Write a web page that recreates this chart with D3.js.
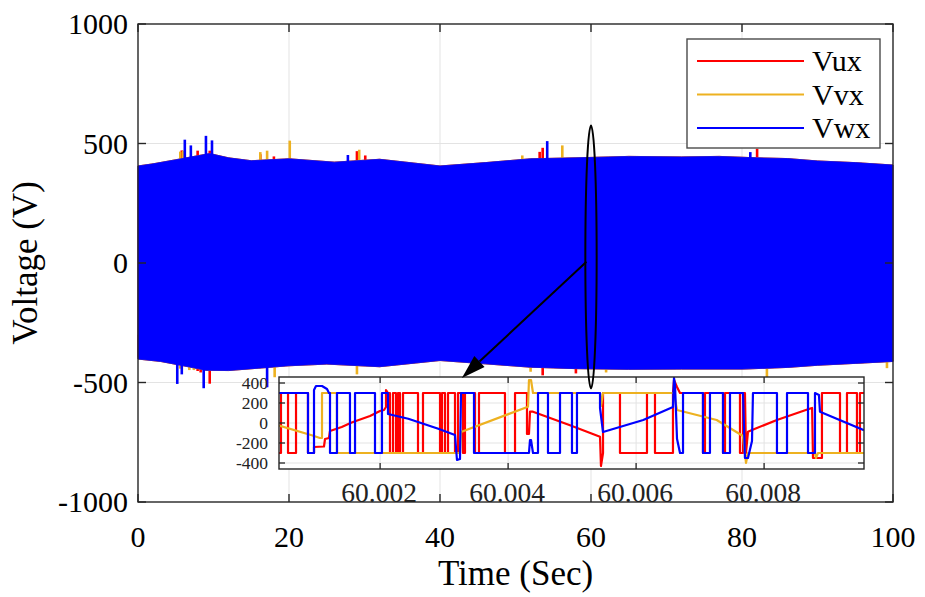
<!DOCTYPE html>
<html>
<head>
<meta charset="utf-8">
<script src="https://cdn.jsdelivr.net/npm/d3@7"></script>
<style>
  html, body { margin: 0; padding: 0; background: #fff; }
  svg, svg text { font-family: 'Liberation Serif', 'Times New Roman', Times, serif; }
  svg { display: block; }
</style>
</head>
<body>
<svg id="chart" width="925" height="597"></svg>
<script>
// ---------------- main axes ----------------
const xTicks = [0, 20, 40, 60, 80, 100];
const yTicks = [-1000, -500, 0, 500, 1000];
const seriesNames = ["Vux", "Vvx", "Vwx"];
const seriesColors = ["#ff0000", "#edb120", "#0000ff"];

// envelope of the switched phase voltages over the 100 s run (s, V)
const envUpperT = [0, 2, 5, 9.5, 12, 15, 20, 26, 32, 40, 46, 52, 58, 65, 72, 77, 82, 86, 90, 95, 100];
const envUpperV = [406, 415, 432, 458, 440, 428, 436, 422, 434, 406, 420, 436, 440, 446, 444, 446, 440, 437, 427, 420, 410];
const envLowerT = [0, 3, 6, 9, 12, 16, 20, 25, 32, 40, 46, 52, 58, 65, 72, 80, 86, 90, 95, 100];
const envLowerV = [-402, -412, -430, -449, -450, -440, -430, -423, -434, -408, -422, -436, -442, -445, -444, -444, -437, -428, -420, -412];

// transient peaks outside the envelope: [time s, voltage V]
const peaksVux = [[0.1, -395], [5.8, 471], [7.9, 470], [9.5, 470], [16.2, 455], [18.0, 446], [29.0, 468], [30.1, 450],
  [53.2, 465], [53.6, 482], [82.0, 478], [7.9, -452], [8.3, -458], [9.5, -505], [53.6, -470], [58.0, -462]];
const peaksVvx = [[5.6, 466], [6.0, 470], [16.2, 464], [17.1, 470], [20.1, 512], [29.3, 474], [50.9, 450], [56.2, 492],
  [5.6, -442], [6.8, -448], [7.4, -448], [18.1, -478], [29.0, -466], [52.0, -455], [62.0, -458], [83.3, -506], [99.2, -440]];
const peaksVwx = [[6.2, 516], [7.0, 492], [9.0, 532], [9.8, 513], [27.8, 452], [54.2, 510], [81.1, 464],
  [5.2, -506], [5.8, -466], [8.7, -524], [17.1, -520], [44.2, -452]];

// ---------------- zoomed window after t = 60 s ----------------
const insetT0 = 60;                       // s
const insetDomainUs = [420, 9561];        // µs after insetT0
const insetXTicks = [2000, 4000, 6000, 8000];
const insetXTickLabels = ["60.002", "60.004", "60.006", "60.008"];
const insetYTicks = [-400, -200, 0, 200, 400];

// [µs after 60 s, V]
const insetVux = [[420,-300],[451,-300],[451,300],[561,300],[561,-300],[686,-300],[686,300],[873,300],[873,-300],[967,-300],
  [967,-240],[1123,-235],[1139,-160],[1201,-150],[1217,-80],[1400,-40],[1556,5],[1842,70],[1998,120],[2061,130],[2092,160],
  [2092,330],[2123,300],[2154,300],[2154,-300],[2201,-300],[2201,300],[2248,300],[2248,-300],[2279,-300],[2279,300],[2311,300],
  [2311,-300],[2358,-300],[2358,300],[2592,300],[2592,-300],[2670,-300],[2670,300],[2936,300],[2936,-300],[2967,-300],[2967,300],
  [3014,300],[3014,-300],[3061,-300],[3061,300],[3170,300],[3170,-300],[3217,-300],[3217,300],[3295,300],[3295,-300],[3326,-300],
  [3326,300],[3483,300],[3483,-300],[3545,-300],[3545,300],[3951,300],[3951,-300],[4108,-300],[4108,300],[4295,300],[4295,-110],
  [4326,-110],[4342,113],[4389,113],[4967,-23],[5436,-137],[5451,-430],[5483,-300],[5483,300],[5748,300],[5748,-300],[6170,-300],
  [6170,300],[6295,300],[6295,-300],[6576,-300],[6576,300],[6592,430],[6639,360],[6686,300],[7045,300],[7045,-300],[7076,-300],
  [7076,300],[7358,300],[7358,-300],[7389,-300],[7389,300],[7623,300],[7623,-300],[7670,-300],[7670,300],[7701,300],[7717,-300],
  [7748,-87],[7811,-70],[8200,30],[8686,137],[8750,150],[8764,-350],[8904,-350],[8904,300],[9186,300],[9186,-300],[9295,-300],
  [9295,300],[9451,300],[9451,-300],[9498,-300],[9498,300],[9561,300]];
const insetVvx = [[420,-25],[931,-123],[1060,-150],[1092,-150],[1092,300],[1326,300],[1326,-300],[3248,-300],[3264,-90],
  [4311,163],[4326,430],[4358,430],[4389,300],[5436,300],[5451,170],[5483,300],[6592,300],[6639,130],[7259,30],[7670,-130],
  [7701,-300],[7717,-400],[7748,-300],[8795,-300],[8810,-350],[8842,-300],[9561,-300]];
const insetVwx = [[420,300],[873,300],[873,-300],[967,-300],[967,330],[998,370],[1092,370],[1170,340],[1201,300],[1217,300],
  [1217,-300],[1326,-300],[1326,300],[1529,300],[1529,-300],[1608,-300],[1608,300],[1920,300],[1920,-300],[2029,-300],[2029,300],
  [2123,300],[2123,90],[2440,43],[2909,-57],[3170,-120],[3201,-370],[3248,-360],[3264,300],[3467,300],[3467,-300],[4326,-300],
  [4342,-170],[4358,-170],[4389,-300],[4467,-300],[4467,300],[4623,300],[4623,-300],[4811,-300],[4811,300],[4998,300],[4998,-300],
  [5076,-300],[5076,300],[5436,300],[5436,150],[5483,-90],[6112,30],[6576,160],[6592,450],[6608,380],[6639,-157],[6686,-300],
  [6733,-300],[6733,300],[7045,300],[7045,-300],[7154,-300],[7154,300],[7358,300],[7358,-300],[7467,-300],[7467,300],[7670,300],
  [7701,-350],[7748,-350],[7811,-180],[7826,300],[8201,300],[8201,-300],[8358,-300],[8358,300],[8686,300],[8686,-300],[8795,-300],
  [8795,300],[8857,280],[8873,113],[9561,-73]];

// callout: ellipse around t = 60 s and arrow to the zoomed window (data units)
const calloutEllipse = { t: 60, v: 25, rt: 0.75, rv: 550 };
const calloutArrow = { from: [59.4, 5], to: [42.9, -481] };

// ---------------- drawing ----------------
const FONT = "'Liberation Serif', 'Times New Roman', Times, serif";
const svg = d3.select("#chart");
const W = 925, H = 597;
const plot = { left: 138, right: 893, top: 24, bottom: 502 };
const axisColor = "#262626";
const gridColor = "#e3e3e3";

const x = d3.scaleLinear().domain([0, 100]).range([plot.left, plot.right]);
const y = d3.scaleLinear().domain([-1000, 1000]).range([plot.bottom, plot.top]);

svg.append("rect").attr("width", W).attr("height", H).attr("fill", "#fff");

function label(g, px, py, txt, size, anchor, color) {
  return g.append("text").attr("x", px).attr("y", py).attr("text-anchor", anchor)
    .attr("font-family", FONT).attr("font-size", size).attr("fill", color || "#000").text(txt);
}

// grid
const grid = svg.append("g");
grid.selectAll("line.gx").data(xTicks.slice(1, -1)).join("line")
  .attr("x1", d => x(d)).attr("x2", d => x(d)).attr("y1", plot.top).attr("y2", plot.bottom)
  .attr("stroke", gridColor).attr("stroke-width", 1);
grid.selectAll("line.gy").data(yTicks.slice(1, -1)).join("line")
  .attr("y1", d => y(d)).attr("y2", d => y(d)).attr("x1", plot.left).attr("x2", plot.right)
  .attr("stroke", gridColor).attr("stroke-width", 1);

// envelope band (upper and lower joined)
const bandPts = envUpperT.map((t, i) => [t, envUpperV[i]])
  .concat(envLowerT.map((t, i) => [t, envLowerV[i]]).reverse());
const bandLine = d3.line().x(d => x(d[0])).y(d => y(d[1]));
const peaks = [peaksVux, peaksVvx, peaksVwx];

const dataG = svg.append("g");
seriesNames.forEach((name, i) => {
  dataG.append("path").attr("d", bandLine(bandPts) + "Z")
    .attr("fill", seriesColors[i]).attr("stroke", seriesColors[i]).attr("stroke-width", 0.8);
  dataG.selectAll(null).data(peaks[i]).join("line")
    .attr("x1", d => x(d[0])).attr("x2", d => x(d[0]))
    .attr("y1", d => y(d[1] > 0 ? 300 : -300)).attr("y2", d => y(d[1]))
    .attr("stroke", seriesColors[i]).attr("stroke-width", 2.6);
});

// main axes box + ticks
const ax = svg.append("g");
ax.append("rect").attr("x", plot.left).attr("y", plot.top)
  .attr("width", plot.right - plot.left).attr("height", plot.bottom - plot.top)
  .attr("fill", "none").attr("stroke", axisColor).attr("stroke-width", 1.4);
const tl = 8;
xTicks.forEach(t => {
  ax.append("line").attr("x1", x(t)).attr("x2", x(t)).attr("y1", plot.bottom).attr("y2", plot.bottom - tl)
    .attr("stroke", axisColor).attr("stroke-width", 1.4);
  ax.append("line").attr("x1", x(t)).attr("x2", x(t)).attr("y1", plot.top).attr("y2", plot.top + tl)
    .attr("stroke", axisColor).attr("stroke-width", 1.4);
  label(ax, x(t), 547, t, 30, "middle");
});
yTicks.forEach(v => {
  ax.append("line").attr("x1", plot.left).attr("x2", plot.left + tl).attr("y1", y(v)).attr("y2", y(v))
    .attr("stroke", axisColor).attr("stroke-width", 1.4);
  ax.append("line").attr("x1", plot.right).attr("x2", plot.right - tl).attr("y1", y(v)).attr("y2", y(v))
    .attr("stroke", axisColor).attr("stroke-width", 1.4);
  label(ax, 128, y(v), v, 30, "end").attr("dy", "0.34em");
});
label(svg, (plot.left + plot.right) / 2, 585, "Time (Sec)", 35, "middle");
label(svg, 0, 0, "Voltage (V)", 35, "middle")
  .attr("transform", `translate(37,${(plot.top + plot.bottom) / 2}) rotate(-90)`);

// ---------------- zoomed window ----------------
const ib = { left: 279, right: 864, top: 377, bottom: 469 };
const xi = d3.scaleLinear().domain(insetDomainUs).range([ib.left, ib.right]);
const yi = d3.scaleLinear().domain([-460, 460]).range([ib.bottom, ib.top]);
const ins = svg.append("g");
ins.append("rect").attr("x", ib.left).attr("y", ib.top).attr("width", ib.right - ib.left)
  .attr("height", ib.bottom - ib.top).attr("fill", "#fff");
ins.selectAll(null).data(insetXTicks).join("line")
  .attr("x1", d => xi(d)).attr("x2", d => xi(d)).attr("y1", ib.top).attr("y2", ib.bottom)
  .attr("stroke", gridColor).attr("stroke-width", 1);
ins.selectAll(null).data(insetYTicks).join("line")
  .attr("y1", d => yi(d)).attr("y2", d => yi(d)).attr("x1", ib.left).attr("x2", ib.right)
  .attr("stroke", gridColor).attr("stroke-width", 1);
svg.append("clipPath").attr("id", "insetClip").append("rect")
  .attr("x", ib.left).attr("y", ib.top).attr("width", ib.right - ib.left).attr("height", ib.bottom - ib.top);
const insLine = d3.line().x(d => xi(d[0])).y(d => yi(d[1]));
[insetVux, insetVvx, insetVwx].forEach((s, i) => {
  ins.append("path").attr("d", insLine(s)).attr("clip-path", "url(#insetClip)")
    .attr("fill", "none").attr("stroke", seriesColors[i]).attr("stroke-width", 2.2)
    .attr("stroke-linejoin", "round");
});
ins.append("rect").attr("x", ib.left).attr("y", ib.top).attr("width", ib.right - ib.left)
  .attr("height", ib.bottom - ib.top).attr("fill", "none").attr("stroke", axisColor).attr("stroke-width", 1.4);
const itl = 6;
insetXTicks.forEach((t, k) => {
  ins.append("line").attr("x1", xi(t)).attr("x2", xi(t)).attr("y1", ib.bottom).attr("y2", ib.bottom - itl)
    .attr("stroke", axisColor).attr("stroke-width", 1.3);
  ins.append("line").attr("x1", xi(t)).attr("x2", xi(t)).attr("y1", ib.top).attr("y2", ib.top + itl)
    .attr("stroke", axisColor).attr("stroke-width", 1.3);
  label(ins, xi(t) - 1, 502, insetXTickLabels[k], 27.5, "middle", "#222");
});
insetYTicks.forEach(v => {
  ins.append("line").attr("x1", ib.left).attr("x2", ib.left + itl).attr("y1", yi(v)).attr("y2", yi(v))
    .attr("stroke", axisColor).attr("stroke-width", 1.3);
  ins.append("line").attr("x1", ib.right).attr("x2", ib.right - itl).attr("y1", yi(v)).attr("y2", yi(v))
    .attr("stroke", axisColor).attr("stroke-width", 1.3);
  label(ins, 268, yi(v), v, 17.5, "end", "#222").attr("dy", "0.34em");
});

// ---------------- callout ----------------
const ce = calloutEllipse;
svg.append("ellipse").attr("cx", x(ce.t)).attr("cy", y(ce.v))
  .attr("rx", x(ce.t + ce.rt) - x(ce.t)).attr("ry", y(ce.v - ce.rv) - y(ce.v))
  .attr("fill", "none").attr("stroke", "#000").attr("stroke-width", 2);
const ax0 = x(calloutArrow.from[0]), ay0 = y(calloutArrow.from[1]);
const ax1 = x(calloutArrow.to[0]), ay1 = y(calloutArrow.to[1]);
const ang = Math.atan2(ay1 - ay0, ax1 - ax0);
const headLen = 24, headHalf = 7.5;
const bx = ax1 - headLen * Math.cos(ang), by = ay1 - headLen * Math.sin(ang);
svg.append("line").attr("x1", ax0).attr("y1", ay0).attr("x2", bx).attr("y2", by)
  .attr("stroke", "#000").attr("stroke-width", 2);
svg.append("path")
  .attr("d", `M${ax1},${ay1}L${bx + headHalf * Math.sin(ang)},${by - headHalf * Math.cos(ang)}` +
             `L${bx - headHalf * Math.sin(ang)},${by + headHalf * Math.cos(ang)}Z`)
  .attr("fill", "#000");

// ---------------- legend ----------------
const lg = svg.append("g");
lg.append("rect").attr("x", 687).attr("y", 39).attr("width", 193).attr("height", 109)
  .attr("fill", "#fff").attr("stroke", "#4a4a4a").attr("stroke-width", 1.4);
seriesNames.forEach((name, i) => {
  const ly = 61 + i * 33.5;
  lg.append("line").attr("x1", 697).attr("x2", 804).attr("y1", ly).attr("y2", ly)
    .attr("stroke", seriesColors[i]).attr("stroke-width", 2.2);
  label(lg, 812, ly, name, 30, "start").attr("dy", "0.34em");
});
</script>
</body>
</html>
